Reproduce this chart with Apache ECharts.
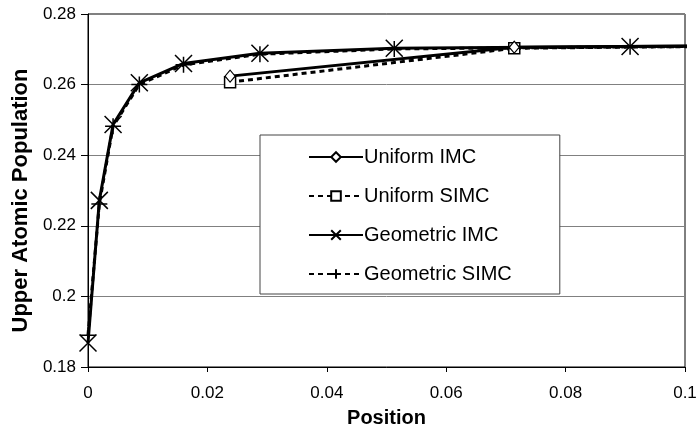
<!DOCTYPE html>
<html>
<head>
<meta charset="utf-8">
<script src="https://cdn.jsdelivr.net/npm/echarts@6/dist/echarts.min.js"></script>
<style>
html,body{margin:0;padding:0;background:#fff;}
#chart{width:696px;height:428px;}
</style>
</head>
<body>
<div id="chart"></div>
<script>
// Data
const seriesNames = ['Uniform IMC', 'Uniform SIMC', 'Geometric IMC', 'Geometric SIMC'];
const uniformX = [0.0238, 0.0714, 0.119];
const uniformIMC = [0.2624, 0.2706, 0.2712];
const uniformSIMC = [0.2607, 0.2703, 0.2711];
const geometricX = [0, 0.0019, 0.0042, 0.0086, 0.016, 0.0288, 0.0513, 0.0908, 0.16];
const geometricIMC = [0.1868, 0.2272, 0.2487, 0.2605, 0.2660, 0.2689, 0.2703, 0.2708, 0.2712];
const geometricSIMC = [0.1890, 0.2262, 0.2482, 0.2600, 0.2656, 0.2686, 0.2701, 0.2707, 0.2711];
const xTicks = [0, 0.02, 0.04, 0.06, 0.08, 0.1];
const yTicks = [0.18, 0.2, 0.22, 0.24, 0.26, 0.28];

function pairs(xs, ys) { return xs.map((x, i) => [x, ys[i]]); }

const FONT = '"Liberation Sans", Arial, sans-serif';
const xPath = 'path://M0,0L10,10M10,0L0,10';
const plusPath = 'path://M5,0L5,10M0,5L10,5';

const chart = echarts.init(document.getElementById('chart'), null, {renderer: 'canvas'});
chart.setOption({
  animation: false,
  backgroundColor: '#fff',
  textStyle: {fontFamily: FONT, color: '#000'},
  grid: {left: 88, right: 11, top: 14, bottom: 61, containLabel: false, outerBoundsMode: 'none',
    show: true, borderColor: '#000', borderWidth: 1, backgroundColor: 'transparent'},
  legend: {
    orient: 'vertical',
    left: 260, top: 135,
    padding: [12, 48, 10, 48],
    itemWidth: 54, itemHeight: 12, itemGap: 19,
    backgroundColor: '#fff',
    borderColor: '#444', borderWidth: 1,
    textStyle: {fontFamily: FONT, fontSize: 20, lineHeight: 20, color: '#000', padding: [0, 0, 0, -4]},
    data: seriesNames
  },
  xAxis: {
    type: 'value', min: xTicks[0], max: xTicks[xTicks.length - 1], interval: 0.02,
    name: 'Position', nameLocation: 'middle', nameGap: 41,
    nameTextStyle: {fontFamily: FONT, fontSize: 20, fontWeight: 'bold', color: '#000'},
    axisLine: {show: true, onZero: false, lineStyle: {color: '#000', width: 1}},
    axisTick: {show: true, length: 5, inside: false, lineStyle: {color: '#000'}},
    axisLabel: {fontFamily: FONT, fontSize: 17, color: '#000', margin: 18,
      formatter: v => String(+v.toFixed(4))},
    splitLine: {show: false}
  },
  yAxis: {
    type: 'value', min: yTicks[0], max: yTicks[yTicks.length - 1], interval: 0.02,
    name: 'Upper Atomic Population', nameLocation: 'middle', nameGap: 54,
    nameTextStyle: {fontFamily: FONT, fontSize: 22, fontWeight: 'bold', color: '#000', padding: [0, 20, 0, 0]},
    axisLine: {show: true, onZero: false, lineStyle: {color: '#000', width: 1}},
    axisTick: {show: true, length: 7, inside: false, lineStyle: {color: '#000'}},
    axisLabel: {fontFamily: FONT, fontSize: 17, color: '#000', margin: 12,
      formatter: v => String(+v.toFixed(4))},
    splitLine: {show: true, lineStyle: {color: '#808080', width: 1}}
  },
  series: [
    {
      name: seriesNames[0], type: 'line', z: 4,
      data: pairs(uniformX, uniformIMC),
      symbol: 'diamond', symbolSize: [10, 12], showAllSymbol: true,
      lineStyle: {color: '#000', width: 3, type: 'solid'},
      itemStyle: {color: '#fff', borderColor: '#000', borderWidth: 1.2}
    },
    {
      name: seriesNames[1], type: 'line', z: 3,
      data: pairs(uniformX, uniformSIMC),
      symbol: 'rect', symbolSize: 11, showAllSymbol: true,
      lineStyle: {color: '#000', width: 3, type: [5, 4]},
      itemStyle: {color: '#fff', borderColor: '#000', borderWidth: 1.5}
    },
    {
      name: seriesNames[2], type: 'line', z: 4,
      data: pairs(geometricX, geometricIMC),
      symbol: xPath, symbolSize: 17, showAllSymbol: true,
      lineStyle: {color: '#000', width: 3, type: 'solid'},
      itemStyle: {color: 'transparent', borderColor: '#000', borderWidth: 1.5}
    },
    {
      name: seriesNames[3], type: 'line', z: 3,
      data: pairs(geometricX, geometricSIMC),
      symbol: plusPath, symbolSize: 16, showAllSymbol: true,
      lineStyle: {color: '#000', width: 3, type: [5, 4]},
      itemStyle: {color: 'transparent', borderColor: '#000', borderWidth: 1.5}
    }
  ]
});
</script>
</body>
</html>
